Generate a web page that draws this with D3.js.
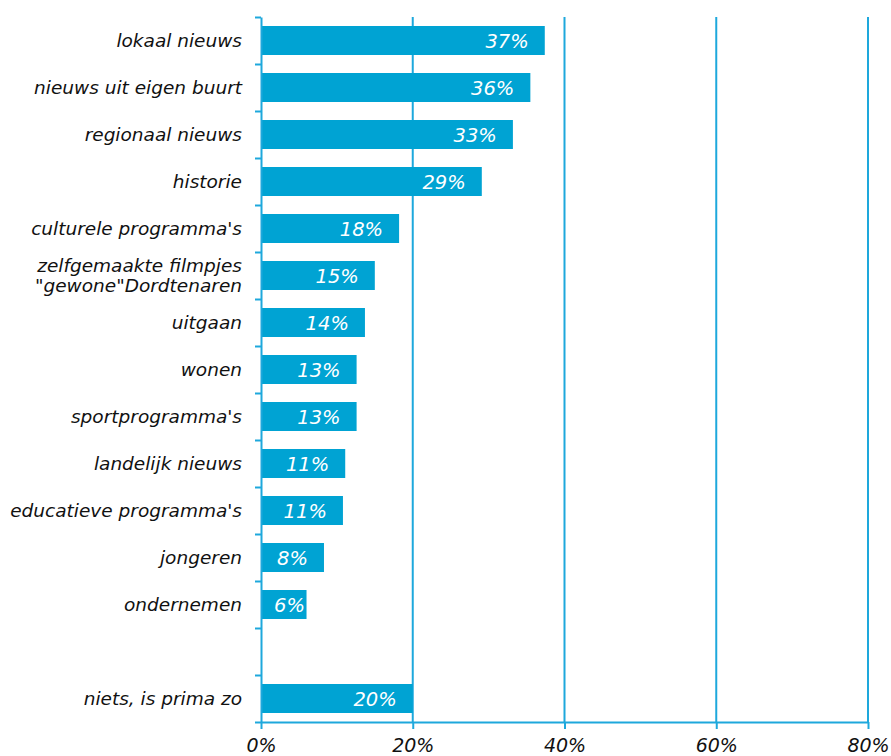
<!DOCTYPE html>
<html>
<head>
<meta charset="utf-8">
<script src="https://cdn.jsdelivr.net/npm/d3@7"></script>
<style>
  html, body { margin: 0; padding: 0; background: #fff; }
  text { font-family: "DejaVu Sans", Verdana, sans-serif; font-style: italic; }
</style>
</head>
<body>
<div id="chart"></div>
<script>
// categories top to bottom, the empty entry is the gap above "niets"
var categories = [
    "lokaal nieuws",
    "nieuws uit eigen buurt",
    "regionaal nieuws",
    "historie",
    "culturele programma's",
    "zelfgemaakte filmpjes|\"gewone\"Dordtenaren",
    "uitgaan",
    "wonen",
    "sportprogramma's",
    "landelijk nieuws",
    "educatieve programma's",
    "jongeren",
    "ondernemen",
    "",
    "niets, is prima zo"
];
var values = [37.4, 35.5, 33.2, 29.1, 18.2, 15.0, 13.7, 12.6, 12.6, 11.1, 10.8, 8.3, 6.0, null, 20.0];
var valueLabels = ["37%", "36%", "33%", "29%", "18%", "15%", "14%", "13%", "13%", "11%", "11%", "8%", "6%", "", "20%"];
var xTicks = [0, 20, 40, 60, 80];

var width = 891, height = 756;
var margin = { top: 17, right: 23, bottom: 34, left: 261 };
var barColor = "#00a3d3";
var lineColor = "#1ea8dc";

var svg = d3.select("#chart")
    .append("svg")
    .attr("width", width)
    .attr("height", height);

var x = d3.scaleLinear()
    .domain([0, 80])
    .range([margin.left, width - margin.right]);

var keys = categories.map((c, i) => i);
var y = d3.scaleBand()
    .domain(keys)
    .range([margin.top, height - margin.bottom])
    .paddingInner(0.383)
    .paddingOuter(0.1915);

// boundaries between slots, for the ticks on the left
var yEdges = d3.scaleLinear()
    .domain([0, categories.length])
    .range([margin.top, height - margin.bottom]);

// vertical gridlines
svg.append("g")
    .selectAll("line")
    .data(xTicks.slice(1))
    .enter()
    .append("line")
    .attr("x1", d => x(d))
    .attr("x2", d => x(d))
    .attr("y1", margin.top)
    .attr("y2", height - margin.bottom)
    .style("stroke", lineColor)
    .style("stroke-width", 2);

// bars
var data = categories.map((c, i) => ({ i: i, name: c, value: values[i], label: valueLabels[i] }))
    .filter(d => d.value != null);

svg.append("g")
    .selectAll("rect")
    .data(data)
    .enter()
    .append("rect")
    .attr("x", x(0))
    .attr("y", d => y(d.i))
    .attr("width", d => x(d.value) - x(0))
    .attr("height", y.bandwidth())
    .style("fill", barColor);

// y axis with ticks between the slots
var yAxis = svg.append("g")
    .attr("transform", `translate(${x(0)},0)`)
    .call(d3.axisLeft(yEdges)
        .tickValues(d3.range(categories.length + 1))
        .tickFormat("")
        .tickSize(6)
        .tickSizeOuter(0));

// x axis
var xAxis = svg.append("g")
    .attr("transform", `translate(0,${height - margin.bottom})`)
    .call(d3.axisBottom(x)
        .tickValues(xTicks)
        .tickFormat(d => d + "%")
        .tickSize(7)
        .tickSizeOuter(0)
        .tickPadding(10));

[yAxis, xAxis].forEach(function (g) {
    g.selectAll("path, line")
        .style("stroke", lineColor)
        .style("stroke-width", 2);
});
xAxis.selectAll("text")
    .attr("font-size", "19px")
    .attr("fill", "#111")
    .style("font-family", "'DejaVu Sans', Verdana, sans-serif")
    .style("font-style", "italic");

// category labels
var catLabels = svg.append("g")
    .selectAll("text")
    .data(categories.map((c, i) => ({ i: i, lines: c ? c.split("|") : [] })))
    .enter()
    .append("text")
    .attr("text-anchor", "end")
    .attr("font-size", "18.5px")
    .attr("fill", "#111");

catLabels.each(function (d) {
    var cy = y(d.i) + y.bandwidth() / 2;
    var t = d3.select(this);
    if (d.lines.length === 1) {
        t.append("tspan").attr("x", x(0) - 19).attr("y", cy + 6).text(d.lines[0]);
    } else {
        d.lines.forEach(function (line, k) {
            t.append("tspan").attr("x", x(0) - 19).attr("y", cy - 4 + k * 20).text(line);
        });
    }
});

// value labels inside the bars
svg.append("g")
    .selectAll("text")
    .data(data)
    .enter()
    .append("text")
    .attr("text-anchor", "end")
    .attr("font-size", "19.5px")
    .attr("fill", "#fff")
    .attr("y", d => y(d.i) + y.bandwidth() / 2 + 7)
    .text(d => d.label)
    .attr("x", function (d) {
        var w = this.getComputedTextLength();
        return Math.max(x(d.value) - 16, x(0) + 13 + w);
    });
</script>
</body>
</html>
